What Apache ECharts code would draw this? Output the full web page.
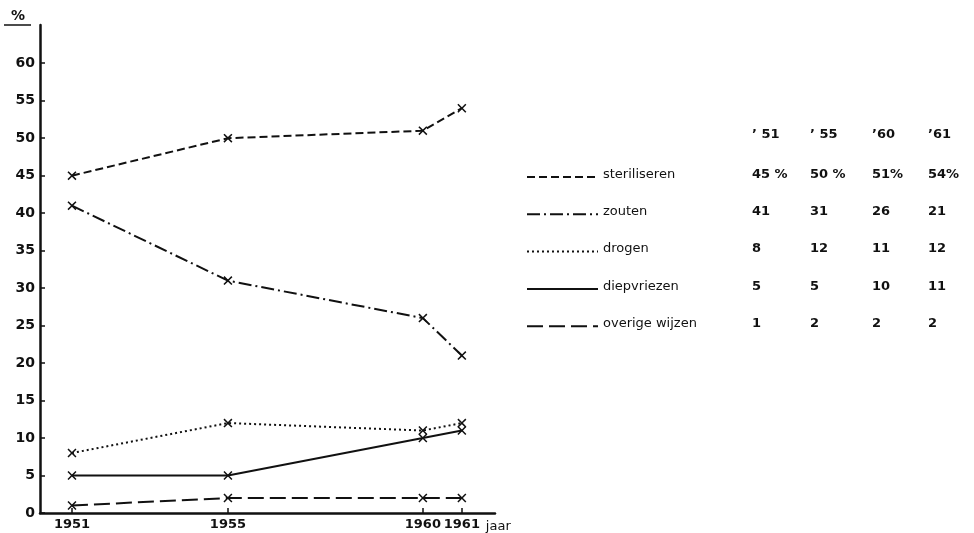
<!DOCTYPE html>
<html>
<head>
<meta charset="utf-8">
<script src="https://cdn.jsdelivr.net/npm/echarts@6/dist/echarts.min.js"></script>
<style>html,body{margin:0;padding:0;background:#fff}#c{width:974px;height:533px}</style>
</head>
<body>
<div id="c"></div>
<script>
const years = [1951, 1955, 1960, 1961];
const yearHeaders = ["’ 51", "’ 55", "’60", "’61"];
const names = ["steriliseren", "zouten", "drogen", "diepvriezen", "overige wijzen"];
const steriliseren = [45, 50, 51, 54];
const zouten = [41, 31, 26, 21];
const drogen = [8, 12, 11, 12];
const diepvriezen = [5, 5, 10, 11];
const overige = [1, 2, 2, 2];
const yTicks = [0, 5, 10, 15, 20, 25, 30, 35, 40, 45, 50, 55, 60];
const tableText = [
  ["45 %", "50 %", "51%", "54%"],
  zouten.map(String),
  drogen.map(String),
  diepvriezen.map(String),
  overige.map(String)
];

const allData = [steriliseren, zouten, drogen, diepvriezen, overige];
const dashes = [[8, 4], [13, 4, 2, 4], [2, 3], 'solid', [16, 6]];
const font = 'DejaVu Sans';
const crossPath = 'path://M0,1.2L1.2,0L5,3.8L8.8,0L10,1.2L6.2,5L10,8.8L8.8,10L5,6.2L1.2,10L0,8.8L3.8,5Z';

const chart = echarts.init(document.getElementById('c'), null, {renderer: 'canvas'});

const series = names.map((n, i) => ({
  name: n,
  type: 'line',
  data: years.map((y, j) => [y, allData[i][j]]),
  symbol: crossPath,
  symbolSize: 9,
  itemStyle: {color: '#111'},
  lineStyle: {color: '#111', width: 2, type: dashes[i]},
  animation: false,
  z: 3
}));

// legend table built from arrays
const graphics = [];
const rowY0 = 177, rowStep = 37.3;
const colX = [752, 810, 872, 928];
yearHeaders.forEach((h, j) => {
  graphics.push({type: 'text', left: colX[j], top: 128,
    style: {text: h, font: 'bold 13px "' + font + '"', fill: '#111'}});
});
names.forEach((n, i) => {
  const y = rowY0 + i * rowStep;
  const d = dashes[i];
  graphics.push({type: 'line', shape: {x1: 527, y1: y, x2: 598, y2: y},
    style: {stroke: '#111', lineWidth: 2, lineDash: d === 'solid' ? null : d}});
  graphics.push({type: 'text', left: 603, top: y - 9,
    style: {text: n, font: '13px "' + font + '"', fill: '#111'}});
  tableText[i].forEach((t, j) => {
    graphics.push({type: 'text', left: colX[j], top: y - 9,
      style: {text: t, font: 'bold 13px "' + font + '"', fill: '#111'}});
  });
});
graphics.push({type: 'text', left: 11, top: 9,
  style: {text: '%', font: 'bold 14px "' + font + '"', fill: '#111'}});
graphics.push({type: 'line', shape: {x1: 4, y1: 25, x2: 31, y2: 25},
  style: {stroke: '#111', lineWidth: 1.5}});

chart.setOption({
  backgroundColor: '#fff',
  animation: false,
  grid: {left: 40, right: 479, top: 25, bottom: 19, containLabel: false},
  xAxis: {
    type: 'value', min: 1950.18, max: 1961.85,
    name: 'jaar', nameLocation: 'end', nameGap: -22,
    nameTextStyle: {fontFamily: font, fontSize: 13, color: '#111',
      verticalAlign: 'top', padding: [7, 0, 0, 0]},
    splitLine: {show: false},
    axisLine: {show: true, lineStyle: {color: '#111', width: 2.5}},
    axisTick: {show: true, inside: true, length: 5, lineStyle: {color: '#111', width: 1.5},
      customValues: years},
    axisLabel: {customValues: years, formatter: v => String(v), color: '#111',
      fontFamily: font, fontWeight: 'bold', fontSize: 13, margin: 5}
  },
  yAxis: {
    type: 'value', min: 0, max: 65.1,
    splitLine: {show: false},
    axisLine: {show: true, lineStyle: {color: '#111', width: 2.5}},
    axisTick: {show: true, inside: true, length: 5, lineStyle: {color: '#111', width: 1.5},
      customValues: yTicks},
    axisLabel: {customValues: yTicks, color: '#111', fontFamily: font,
      fontWeight: 'bold', fontSize: 14, margin: 5}
  },
  series: series,
  graphic: graphics
});
</script>
</body>
</html>
